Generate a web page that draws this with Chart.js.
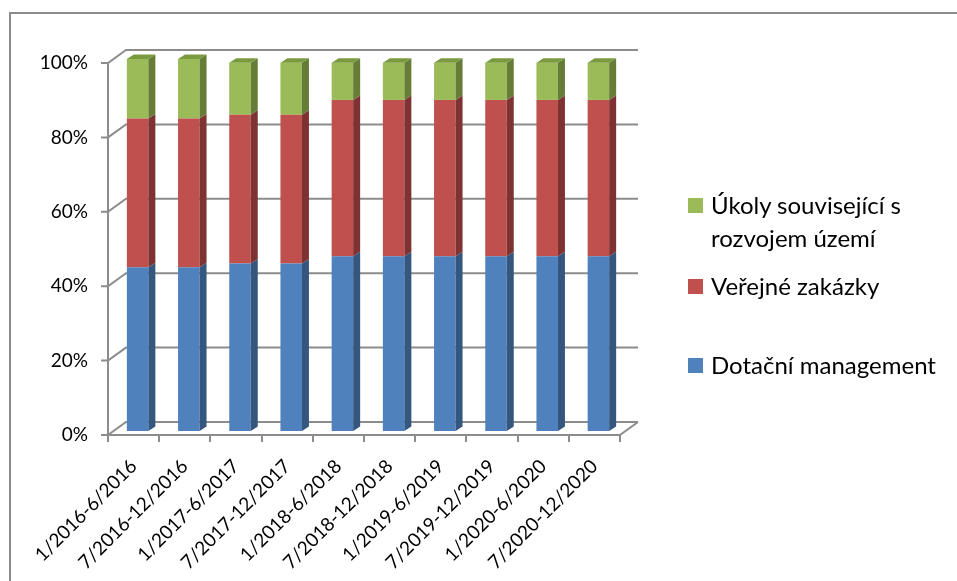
<!DOCTYPE html>
<html>
<head>
<meta charset="utf-8">
<script src="https://cdn.jsdelivr.net/npm/chart.js@4"></script>
<style>
  html, body { margin: 0; padding: 0; background: #fff; }
  #wrap { position: relative; width: 957px; height: 581px; overflow: hidden; font-family: Lato, sans-serif; }
  #frame { position: absolute; left: 9px; top: 12px; width: 2000px; height: 2000px; border: 2px solid #8c8c8c; }
  #chart { position: absolute; left: 0; top: 0; }
  .leg { position: absolute; left: 688px; font-size: 24px; line-height: 33px; color: #000; }
  .leg i { position: absolute; left: 0; top: 10px; width: 15px; height: 15px; }
  .leg span { display: block; margin-left: 23px; }
</style>
</head>
<body>
<div id="wrap">
  <div id="frame"></div>
  <canvas id="chart" width="957" height="581"></canvas>
  <div class="leg" style="top:188px"><i style="background:#9bbb59"></i><span>Úkoly související s<br>rozvojem území</span></div>
  <div class="leg" style="top:269px"><i style="background:#c0504d"></i><span>Veřejné zakázky</span></div>
  <div class="leg" style="top:348px"><i style="background:#4f81bd"></i><span>Dotační management</span></div>
</div>
<script>
const periods = ["1/2016-6/2016", "7/2016-12/2016", "1/2017-6/2017", "7/2017-12/2017", "1/2018-6/2018",
  "7/2018-12/2018", "1/2019-6/2019", "7/2019-12/2019", "1/2020-6/2020", "7/2020-12/2020"];
const dotacni = [44, 44, 45, 45, 47, 47, 47, 47, 47, 47];
const verejne = [40, 40, 40, 40, 42, 42, 42, 42, 42, 42];
const ukoly = [16, 16, 14, 14, 10, 10, 10, 10, 10, 10];

const gridColor = "#8c8c8c";
const wall = { dx: 18, dy: -13 };
const shift = { dx: 4, dy: -4 };
const side = { dx: 7, dy: -4.5 };

// walls, left edge and 3D sides of the columns
const fake3d = {
  id: "fake3d",
  beforeDatasetsDraw(chart) {
    const { ctx, chartArea: a, scales: { y } } = chart;
    ctx.save();
    ctx.strokeStyle = gridColor;
    ctx.lineWidth = 2;
    ctx.beginPath();
    y.ticks.forEach(t => {
      const py = y.getPixelForValue(t.value);
      ctx.moveTo(a.left - 7, py);
      ctx.lineTo(a.left, py);
      ctx.lineTo(a.left + wall.dx, py + wall.dy);
      ctx.lineTo(a.right + wall.dx, py + wall.dy);
    });
    ctx.moveTo(a.right, a.bottom);
    ctx.lineTo(a.right + wall.dx, a.bottom + wall.dy);
    ctx.stroke();
    ctx.restore();
    ctx.save();
    ctx.translate(shift.dx, shift.dy);
  },
  afterDatasetsDraw(chart) {
    const { ctx } = chart;
    const n = chart.data.datasets.length;
    chart.data.datasets.forEach((ds, i) => {
      chart.getDatasetMeta(i).data.forEach(el => {
        const { x, y, base, width } = el.getProps(["x", "y", "base", "width"], true);
        const r = x + width / 2, l = x - width / 2;
        ctx.fillStyle = ds.sideColor;
        ctx.beginPath();
        ctx.moveTo(r, y);
        ctx.lineTo(r + side.dx, y + side.dy);
        ctx.lineTo(r + side.dx, base + side.dy);
        ctx.lineTo(r, base);
        ctx.closePath();
        ctx.fill();
        if (i === n - 1) {
          ctx.fillStyle = ds.topColor;
          ctx.beginPath();
          ctx.moveTo(l, y);
          ctx.lineTo(l + side.dx, y + side.dy);
          ctx.lineTo(r + side.dx, y + side.dy);
          ctx.lineTo(r, y);
          ctx.closePath();
          ctx.fill();
        }
      });
    });
    ctx.restore();
  }
};

const ctx = document.getElementById("chart").getContext("2d");
new Chart(ctx, {
  type: "bar",
  data: {
    labels: periods,
    datasets: [
      { label: "Dotační management", data: dotacni, backgroundColor: "#4f81bd", sideColor: "#35577f", topColor: "#5b8ac4" },
      { label: "Veřejné zakázky", data: verejne, backgroundColor: "#c0504d", sideColor: "#7e3231", topColor: "#a5403e" },
      { label: "Úkoly související s rozvojem území", data: ukoly, backgroundColor: "#9bbb59", sideColor: "#667d38", topColor: "#7a9a40" }
    ]
  },
  options: {
    responsive: false,
    animation: false,
    devicePixelRatio: 1,
    events: [],
    layout: { padding: { left: 0, top: 63, right: 337, bottom: 0 } },
    datasets: { bar: { barPercentage: 0.42, categoryPercentage: 1, borderWidth: 0 } },
    plugins: { legend: { display: false }, tooltip: { enabled: false } },
    scales: {
      x: {
        stacked: true,
        afterFit: s => { s.height = 146; },
        grid: { drawOnChartArea: false, offset: true, tickLength: 7, color: gridColor, lineWidth: 2 },
        border: { color: gridColor, width: 2 },
        ticks: { maxRotation: 45, minRotation: 45, autoSkip: false, padding: 13, color: "#000", font: { family: "Lato", size: 19 } }
      },
      y: {
        stacked: true,
        min: 0,
        max: 100,
        afterFit: s => { s.width = 108; },
        grid: { display: false },
        border: { color: gridColor, width: 2 },
        ticks: { stepSize: 20, padding: 12, color: "#000", font: { family: "Lato", size: 19 }, callback: v => v + "%" }
      }
    }
  },
  plugins: [fake3d]
});
</script>
</body>
</html>
